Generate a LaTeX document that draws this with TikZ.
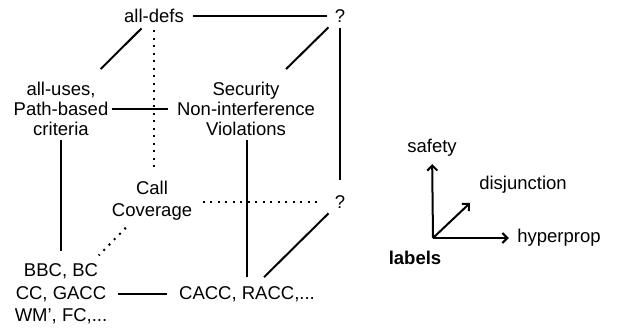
\documentclass[tikz,border=0pt]{standalone}
\usepackage{fontspec}
\setmainfont{Liberation Sans}
\usetikzlibrary{arrows.meta}

\begin{document}
\begin{tikzpicture}[x=1pt, y=-1pt,
        txt/.style={align=center, font=\fontsize{18.5}{20}\selectfont},
        edge/.style={line width=\edgewidth},
        dots/.style={line width=\edgewidth, dash pattern=on 2pt off 5.5pt},
        axis/.style={line width=\edgewidth, -{Straight Barb[length=5pt, width=10pt]}}]
        \def\edgewidth{2pt}

        \useasboundingbox (0, 0) rectangle (618, 329);

        % the cube
        \node[txt] (alldefs) at (154, 16) {all-defs};
        \node[txt] (qtop) at (340, 16) {?};
        \node[txt] (alluses) at (61, 108.5) {all-uses,\\Path-based\\criteria};
        \node[txt] (security) at (246, 108.5) {Security\\Non-interference\\Violations};
        \node[txt, font=\fontsize{18.5}{22}\selectfont] (callcov) at (152, 201) {Call\\Coverage};
        \node[txt] (qmid) at (340, 202) {?};
        \node[txt, font=\fontsize{18.5}{22.5}\selectfont] (bbc) at (61, 294) {BBC, BC\\CC, GACC\\WM', FC,...};
        \node[txt] (cacc) at (247, 294) {CACC, RACC,...};

        \draw[edge, shorten <=6pt, shorten >=4pt] (alldefs) -- (qtop);
        \draw[edge, shorten <=3pt, shorten >=13pt] (alldefs) -- (alluses);
        \draw[edge, shorten <=4pt, shorten >=13pt] (qtop) -- (security);
        \draw[edge, shorten >=6pt] (alluses) -- (security);
        \draw[edge, shorten <=2pt, shorten >=12pt] (qtop) -- (qmid);
        \draw[edge, shorten <=1pt, shorten >=9pt] (alluses.south -| bbc.north) -- (bbc.north);
        \draw[edge, shorten <=1pt, shorten >=6pt] (security.south -| cacc.north) -- (cacc.north);
        \draw[edge, shorten <=4pt, shorten >=8pt] (qmid) -- (cacc);
        \draw[edge, shorten <=7pt, shorten >=9pt] (bbc.east |- cacc.west) -- (cacc.west);

        \draw[dots, shorten <=4pt, shorten >=9pt] (alldefs.south) -- (alldefs.south |- callcov.north);
        \draw[dots, shorten <=7pt, shorten >=9pt] (callcov.east |- qmid.west) -- (qmid.west);
        \draw[dots, shorten <=5pt, shorten >=7pt] (callcov) -- (bbc);

        % legend
        \coordinate (origin) at (433, 238);
        \coordinate (disjtip) at (470, 203);
        \node[txt] (safety) at (432, 148) {safety};
        \node[txt] (disj) at (523, 185) {disjunction};
        \node[txt] (hyper) at (559, 238) {hyperprop};
        \node[txt, font=\fontsize{18.5}{20}\selectfont\bfseries] (labels) at (415, 258) {labels};

        \draw[axis, shorten >=4pt] (origin) -- (safety);
        \draw[axis, shorten >=5pt] (origin) -- (hyper);
        \draw[axis] (origin) -- (disjtip);
\end{tikzpicture}
\end{document}
